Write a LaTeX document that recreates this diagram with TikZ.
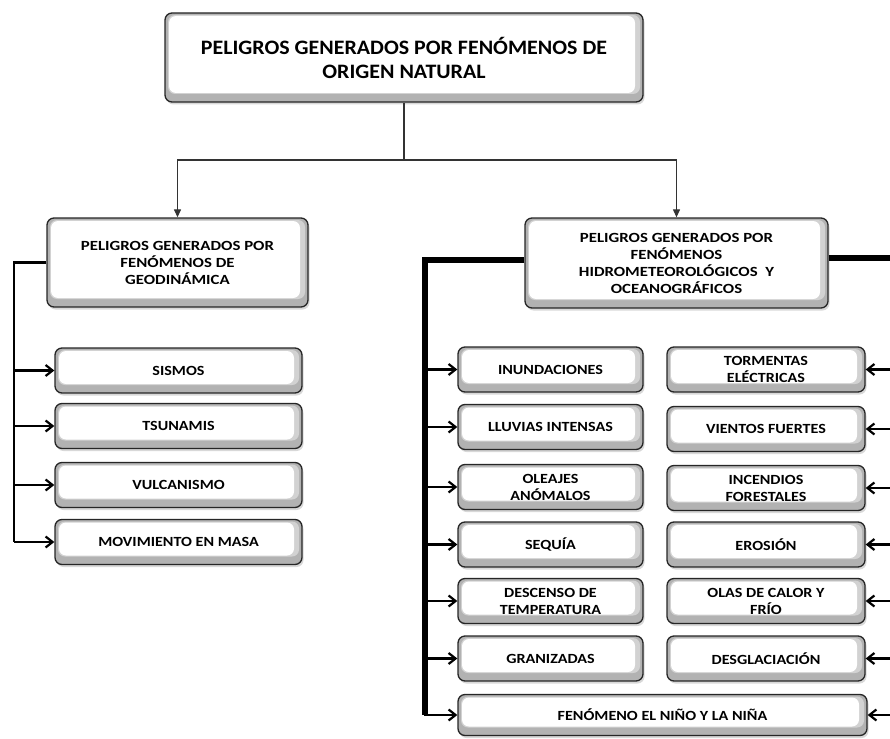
\documentclass[tikz,border=0pt]{standalone}
\usepackage{fontspec}
\setmainfont{Carlito}
\usetikzlibrary{arrows.meta,shadows,calc}
\begin{document}
\begin{tikzpicture}[x=1pt,y=-1pt,
  bev/.style={draw=black!85, line width=1.3pt, rounded corners=7pt, fill=white,
    drop shadow={shadow xshift=1.5pt, shadow yshift=-2.5pt, fill=black!30, opacity=0.5},
    inner sep=2pt, align=center, font=\bfseries,
    path picture={
      \fill[gray!60] (path picture bounding box.south west) rectangle (path picture bounding box.north east);
      \fill[gray!35] ([xshift=3pt,yshift=8pt]path picture bounding box.south west) rectangle ([xshift=-3pt,yshift=-2pt]path picture bounding box.north east);
      \fill[white] ([xshift=4pt,yshift=9pt]path picture bounding box.south west) rectangle ([xshift=-8pt,yshift=-3pt]path picture bounding box.north east);
    }},
  bigbox/.style={bev, font=\bfseries\fontsize{20.5}{24}\selectfont\addfontfeature{FakeStretch=1.07}},
  midbox/.style={bev, font=\bfseries\fontsize{14}{17}\selectfont\addfontfeature{FakeStretch=1.2}},
  smallbox/.style={bev, font=\bfseries\fontsize{14}{17}\selectfont\addfontfeature{FakeStretch=1.15}, minimum height=45pt},
  thin/.style={draw=black!80, line width=1.2pt},
  down/.style={thin, -{Triangle[length=8pt,width=7pt]}},
  br/.style={draw=black, line width=2.3pt},
  brarr/.style={draw=black, line width=2.3pt, -{Straight Barb[length=7pt,width=11pt,line width=2.2pt]}},
  thick/.style={draw=black, line width=5.5pt},
]
\useasboundingbox (0,0) rectangle (890,738);
\clip (0,0) rectangle (890,738);

% top
\node[bigbox, minimum width=478pt, minimum height=89pt] (top) at (404,57.5)
  {PELIGROS GENERADOS POR FENÓMENOS DE\\ORIGEN NATURAL};

\node[midbox, minimum width=261pt, minimum height=89pt] (geo) at (177.5,262.5)
  {PELIGROS GENERADOS POR\\FENÓMENOS DE\\GEODINÁMICA};
\node[midbox, minimum width=303pt, minimum height=90pt] (hyd) at (676.5,263)
  {PELIGROS GENERADOS POR\\FENÓMENOS\\HIDROMETEOROLÓGICOS~ Y\\OCEANOGRÁFICOS};

% left children
\node[smallbox, minimum width=247pt] (sis) at (178.5,370.5) {SISMOS};
\node[smallbox, minimum width=247pt] (tsu) at (178.5,426) {TSUNAMIS};
\node[smallbox, minimum width=247pt] (vul) at (178.5,485) {VULCANISMO};
\node[smallbox, minimum width=247pt] (mov) at (178.5,542) {MOVIMIENTO EN MASA};

% hydro left column
\node[smallbox, minimum width=185pt] (inu) at (550.5,369.5) {INUNDACIONES};
\node[smallbox, minimum width=185pt] (llu) at (550.5,427) {LLUVIAS INTENSAS};
\node[smallbox, minimum width=185pt] (ole) at (550.5,487) {OLEAJES\\ANÓMALOS};
\node[smallbox, minimum width=185pt] (seq) at (550.5,544.5) {SEQUÍA};
\node[smallbox, minimum width=185pt] (des) at (550.5,601) {DESCENSO DE\\TEMPERATURA};
\node[smallbox, minimum width=185pt] (gra) at (550.5,658.5) {GRANIZADAS};
% hydro right column
\node[smallbox, minimum width=198pt] (tor) at (766,369.5) {TORMENTAS\\ELÉCTRICAS};
\node[smallbox, minimum width=198pt] (vie) at (766,429) {VIENTOS FUERTES};
\node[smallbox, minimum width=198pt] (inc) at (766,488) {INCENDIOS\\FORESTALES};
\node[smallbox, minimum width=198pt] (ero) at (766,544.5) {EROSIÓN};
\node[smallbox, minimum width=198pt] (ola) at (766,601) {OLAS DE CALOR Y\\FRÍO};
\node[smallbox, minimum width=198pt] (dgl) at (766,658.5) {DESGLACIACIÓN};
\node[smallbox, minimum width=409pt, minimum height=41pt] (fen) at (662.5,715) {FENÓMENO EL NIÑO Y LA NIÑA};

% top connectors
\coordinate (split) at (404,160);
\draw[thin] (top.south) -- (split);
\draw[down] (split) -| (geo.north);
\draw[down] (split) -| (hyd.north);

% geodinamica bracket
\coordinate (gL) at (14,262.5);
\draw[br] (geo.west) -- (gL) -- (gL |- mov.west);
\foreach \n in {sis,tsu,vul,mov}
  \draw[brarr] (gL |- \n.west) -- (\n.west);

% hydro left bracket
\coordinate (hL) at (425,260);
\draw[thick] (hyd.west |- hL) -- (hL) -- (hL |- fen.west);
\foreach \n in {inu,llu,ole,seq,des,gra,fen}
  \draw[brarr] ([xshift=-1pt]hL |- \n.west) -- (\n.west);

% hydro right bracket
\coordinate (hR) at (900,258);
\draw[thick] (hyd.east |- hR) -- (hR) -- (hR |- fen.east);
\foreach \n in {tor,vie,inc,ero,ola,dgl,fen}
  \draw[brarr] (hR |- \n.east) -- (\n.east);
\end{tikzpicture}
\end{document}
